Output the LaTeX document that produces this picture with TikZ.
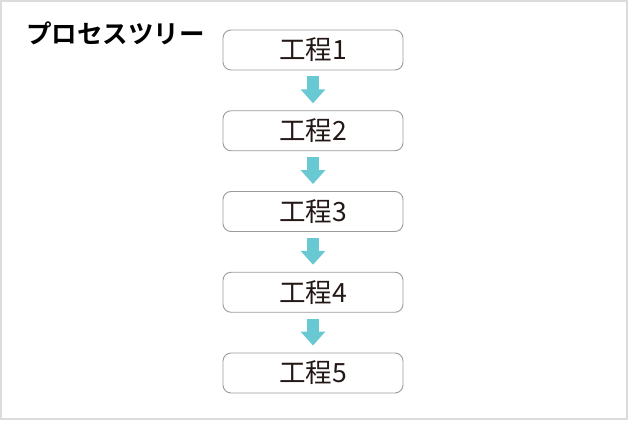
\documentclass[tikz,border=0pt]{standalone}
\usepackage{fontspec}
\setmainfont{Noto Sans CJK JP}
\newfontfamily\titlefont{Noto Sans CJK JP Bold}
\usetikzlibrary{positioning,arrows.meta}
\definecolor{framegray}{RGB}{220,220,220}
\definecolor{boxgray}{RGB}{155,155,155}
\definecolor{textdark}{RGB}{35,24,21}
\definecolor{arrowteal}{RGB}{104,201,210}
\tikzset{
  procbox/.style={draw=boxgray, line width=0.9pt, rounded corners=8pt,
    minimum width=180pt, minimum height=40pt, inner sep=0pt,
    text=textdark, font=\fontsize{26.5pt}{26.5pt}\selectfont},
  flowarrow/.style={draw=arrowteal, line width=12pt,
    -{Triangle[width=24pt,length=14pt,fill=arrowteal]}}
}
\begin{document}
\begin{tikzpicture}[x=1pt,y=-1pt]
  \useasboundingbox (0,0) rectangle (628,420);
  \draw [framegray, line width=2pt] (1,1) rectangle (627,419);
  \node [anchor=west, inner sep=0pt, font=\titlefont\fontsize{25.5pt}{25.5pt}\selectfont] (title) at (26,33) {プロセスツリー};
  \node [procbox] (step1) at (313,50) {工程1};
  \node [procbox, below=39.85pt of step1] (step2) {工程2};
  \node [procbox, below=39.85pt of step2] (step3) {工程3};
  \node [procbox, below=39.85pt of step3] (step4) {工程4};
  \node [procbox, below=39.85pt of step4] (step5) {工程5};
  \draw [flowarrow] ([yshift=-6pt]step1.south) -- ([yshift=7pt]step2.north);
  \draw [flowarrow] ([yshift=-6pt]step2.south) -- ([yshift=7pt]step3.north);
  \draw [flowarrow] ([yshift=-6pt]step3.south) -- ([yshift=7pt]step4.north);
  \draw [flowarrow] ([yshift=-6pt]step4.south) -- ([yshift=7pt]step5.north);
\end{tikzpicture}
\end{document}
